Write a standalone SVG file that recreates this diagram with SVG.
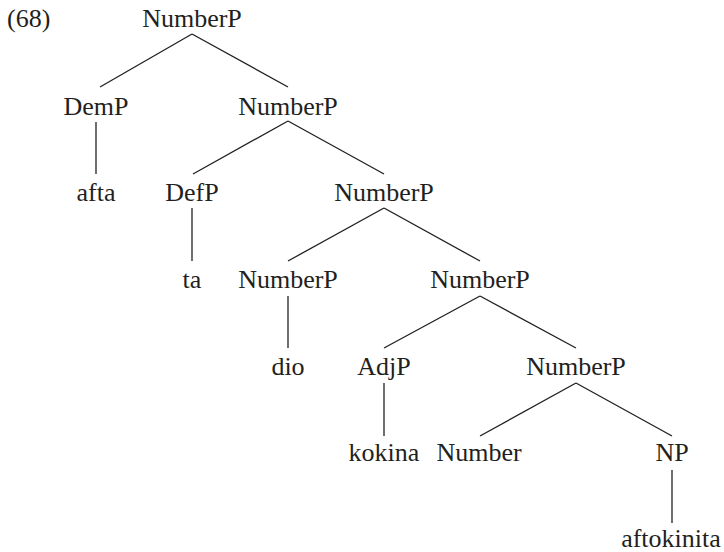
<svg xmlns="http://www.w3.org/2000/svg" width="724" height="552" viewBox="0 0 724 552">
<style>
.t text{font-family:'Liberation Serif','Times New Roman',Times,'DejaVu Serif',serif;font-size:26px;fill:#231f20;text-anchor:middle}
.conn line{stroke:#231f20;stroke-width:1.3;fill:none}
</style>
<rect width="724" height="552" fill="#fff"/>
<g class="t" font-family="Liberation Serif, Times New Roman, serif">
<text x="7" y="27" style="text-anchor:start">(68)</text>
</g>
<g class="conn" id="connectors">
<line x1="192" y1="34" x2="100" y2="87"/>
<line x1="192" y1="34" x2="288" y2="87"/>
<line x1="96" y1="122" x2="96" y2="174"/>
<line x1="288" y1="121" x2="193" y2="174"/>
<line x1="288" y1="121" x2="384" y2="174"/>
<line x1="192" y1="208" x2="192" y2="261"/>
<line x1="384" y1="208" x2="288" y2="261"/>
<line x1="384" y1="208" x2="480" y2="261"/>
<line x1="288" y1="296" x2="288" y2="348"/>
<line x1="480" y1="296" x2="384" y2="348"/>
<line x1="480" y1="296" x2="576" y2="348"/>
<line x1="384" y1="383" x2="384" y2="436"/>
<line x1="576" y1="383" x2="480" y2="436"/>
<line x1="576" y1="383" x2="672" y2="436"/>
<line x1="672" y1="470" x2="672" y2="523"/>
</g>
<g class="t" font-family="Liberation Serif, Times New Roman, serif">
<g id="n0"><text x="192" y="27">NumberP</text></g>
<g id="n1"><text x="96" y="115">DemP</text></g>
<g id="n2"><text x="288" y="115">NumberP</text></g>
<g id="n3"><text x="96" y="201">afta</text></g>
<g id="n4"><text x="192" y="201">DefP</text></g>
<g id="n5"><text x="384" y="201">NumberP</text></g>
<g id="n6"><text x="192" y="288">ta</text></g>
<g id="n7"><text x="288" y="288">NumberP</text></g>
<g id="n8"><text x="480" y="288">NumberP</text></g>
<g id="n9"><text x="288" y="375">dio</text></g>
<g id="n10"><text x="384" y="375">AdjP</text></g>
<g id="n11"><text x="576" y="375">NumberP</text></g>
<g id="n12"><text x="384" y="461">kokina</text></g>
<g id="n13"><text x="479" y="461">Number</text></g>
<g id="n14"><text x="672" y="461">NP</text></g>
<g id="n15"><text x="671" y="547">aftokinita</text></g>
</g>
</svg>
